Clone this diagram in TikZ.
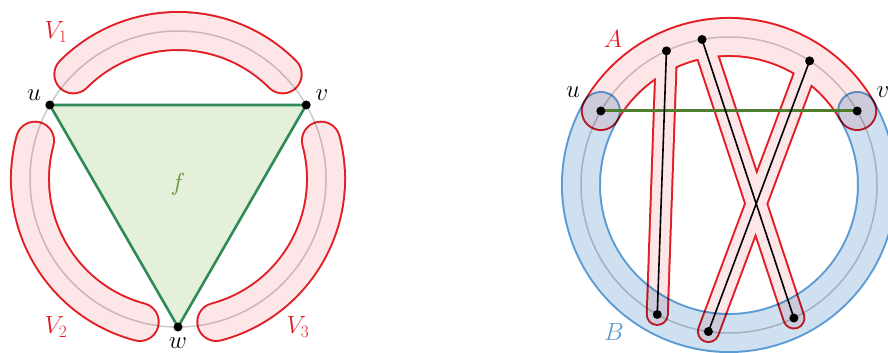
\documentclass[tikz,border=0pt]{standalone}
\usetikzlibrary{calc}
\definecolor{redout}{RGB}{226,30,36}
\definecolor{pinkfill}{RGB}{253,230,232}
\definecolor{blueout}{RGB}{91,155,213}
\definecolor{bluefill}{RGB}{207,224,241}
\definecolor{grayc}{RGB}{204,202,202}
\definecolor{trifill}{RGB}{228,240,218}
\definecolor{triedge}{RGB}{46,139,87}
\definecolor{flabel}{RGB}{96,146,56}
\definecolor{uvline}{RGB}{80,125,45}
\begin{document}
\begin{tikzpicture}[x=1pt,y=1pt,
  dot/.style={circle,fill=black,inner sep=0pt,minimum size=9pt},
  lbl/.style={font=\fontsize{25}{30}\selectfont,inner sep=0pt},
  redlbl/.style={lbl,text=redout},
  bluelbl/.style={lbl,text=blueout},
  guide/.style={grayc,line width=1.5},
  bandout/.style={redout,line width=40,line cap=round},
  bandin/.style={pinkfill,line width=36,line cap=round},
  fingerout/.style={redout,line width=23,line cap=round},
  fingerin/.style={pinkfill,line width=19,line cap=round},
  bbandout/.style={blueout,line width=40,line cap=round},
  bbandin/.style={bluefill,line width=36,line cap=round},
  edge/.style={black,line width=1.6}]
\useasboundingbox (0,0) rectangle (888,353);

% ---------------- left figure ----------------
\coordinate (L) at (178,174);
\draw[guide] (L) circle[radius=148];
\begin{scope}[blend mode=multiply]
\begin{scope}[transparency group]
  \foreach \s in {45,165,285}{
    \draw[bandout] ($(L)+(\s:148)$) arc[start angle=\s,delta angle=90,radius=148];}
  \foreach \s in {45,165,285}{
    \draw[bandin] ($(L)+(\s:148)$) arc[start angle=\s,delta angle=90,radius=148];}
\end{scope}
\end{scope}
\coordinate (u) at ($(L)+(150:148)$);
\coordinate (v) at ($(L)+(30:148)$);
\coordinate (w) at ($(L)+(270:148)$);
\filldraw[fill=trifill,draw=triedge,line width=2.6,line join=round] (u)--(v)--(w)--cycle;
\node[dot] (ud) at (u) {};
\node[dot] (vd) at (v) {};
\node[dot] (wd) at (w) {};
\node[lbl] (ul) at (34,258) {$u$};
\node[lbl] (vl) at (322,258) {$v$};
\node[lbl] (wl) at (178,10) {$w$};
\node[lbl,text=flabel] (fl) at (178,169) {$f$};
\node[redlbl] (V1) at (56,321) {$V_1$};
\node[redlbl] (V2) at (56,26) {$V_2$};
\node[redlbl] (V3) at (298,26) {$V_3$};

% ---------------- right figure ----------------
\coordinate (R) at (729,168);
\draw[guide] (R) circle[radius=148];
\coordinate (ru) at ($(R)+(150:148)$);
\coordinate (rv) at ($(R)+(30:148)$);
\coordinate (a1) at ($(R)+(115:148)$);
\coordinate (a2) at ($(R)+(100.5:148)$);
\coordinate (a3) at ($(R)+(57:148)$);
\coordinate (b1) at ($(R)+(241:148)$);
\coordinate (b2) at ($(R)+(262:148)$);
\coordinate (b3) at ($(R)+(296:148)$);
\begin{scope}[blend mode=multiply]
\begin{scope}[transparency group]
  \draw[bbandout] (ru) arc[start angle=150,end angle=390,radius=148];
  \draw[bbandin] (ru) arc[start angle=150,end angle=390,radius=148];
\end{scope}
\end{scope}
\begin{scope}[blend mode=multiply]
\begin{scope}[transparency group]
  \draw[bandout] (rv) arc[start angle=30,end angle=150,radius=148];
  \draw[fingerout] (a1)--(b1) (a2)--(b3) (a3)--(b2);
  \draw[bandin] (rv) arc[start angle=30,end angle=150,radius=148];
  \draw[fingerin] (a1)--(b1) (a2)--(b3) (a3)--(b2);
\end{scope}
\end{scope}
\draw[uvline,line width=3] (ru)--(rv);
\draw[edge] (a1)--(b1);
\draw[edge] (a2)--(b3);
\draw[edge] (a3)--(b2);
\foreach \p in {ru,rv,a1,a2,a3,b1,b2,b3}{\node[dot] (\p d) at (\p) {};}
\node[lbl] (rul) at (573,261) {$u$};
\node[lbl] (rvl) at (883,261) {$v$};
\node[redlbl] (Al) at (613,314) {$A$};
\node[bluelbl] (Bl) at (614,21) {$B$};
\end{tikzpicture}
\end{document}
